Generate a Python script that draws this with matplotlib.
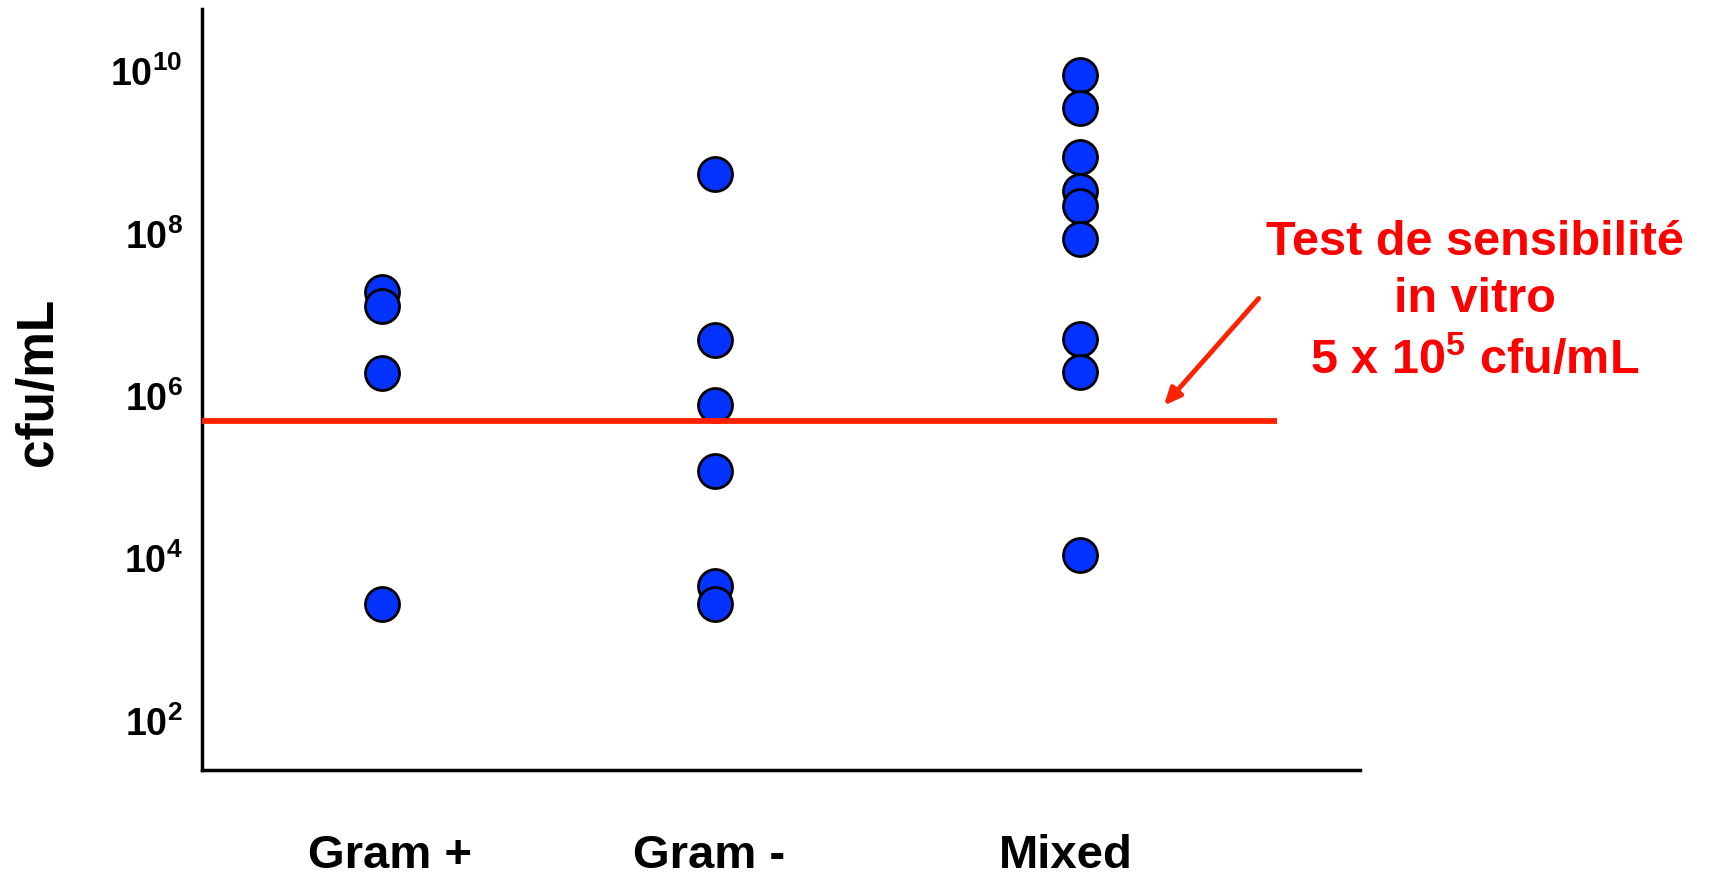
import numpy as np
import matplotlib.pyplot as plt

plt.rcParams['font.family'] = ['Liberation Sans', 'DejaVu Sans']
plt.rcParams['font.weight'] = 'bold'
plt.rcParams['mathtext.fontset'] = 'custom'
plt.rcParams['mathtext.rm'] = 'Liberation Sans:bold'
plt.rcParams['mathtext.it'] = 'Liberation Sans:bold'
plt.rcParams['mathtext.bf'] = 'Liberation Sans:bold'

groups = ['Gram +', 'Gram -', 'Mixed']
gram_pos = [1.95e7, 1.3e7, 1.96e6, 2.8e3]
gram_neg = [5.5e8, 5.0e6, 7.8e5, 1.2e5, 4.6e3, 2.8e3]
mixed = [9.1e9, 3.6e9, 8.9e8, 3.4e8, 2.2e8, 8.7e7, 5.1e6, 2.0e6, 1.1e4]
threshold = 5e5
decades = [2, 4, 6, 8, 10]
note_lines = ['Test de sensibilité', 'in vitro', '5 x 10$^{5}$ cfu/mL']

group_x = [0.1555, 0.443, 0.758]
label_x = [0.162, 0.438, 0.746]

fig = plt.figure(figsize=(17.11, 8.77), dpi=100)
ax = fig.add_axes([0.1181, 0.1220, 0.6768, 0.8677])

for x, vals in zip(group_x, [gram_pos, gram_neg, mixed]):
    ax.scatter([x] * len(vals), vals, s=600, color='#0433ff',
               edgecolors='black', linewidths=2, zorder=3)

ax.hlines(threshold, 0, 0.928, color='#ff2200', lw=4.2, zorder=4)
ax.annotate('', xy=(0.829, threshold * 1.45), xytext=(0.914, 1.7e7),
            arrowprops=dict(arrowstyle='-|>,head_length=1.0,head_width=0.45',
                            color='#ff2200', lw=3.5), zorder=4)

for y, line in zip([0.724, 0.658, 0.589], note_lines):
    fig.text(0.862, y, line, color='red', fontsize=35, fontweight='bold',
             ha='center', va='center')

ax.set_yscale('log')
ax.set_ylim(10 ** 1.397, 10 ** 10.77)
ax.set_xlim(0, 1)
ax.set_yticks([10.0 ** d for d in decades])
ax.set_yticklabels([r'$10^{%d}$' % d for d in decades], fontsize=27)
ax.yaxis.set_minor_locator(plt.NullLocator())
ax.set_xticks(label_x)
ax.set_xticklabels(groups, fontsize=34, fontweight='bold')
ax.tick_params(axis='both', length=0)
ax.tick_params(axis='x', pad=46)
ax.tick_params(axis='y', pad=14)

ax.set_ylabel('cfu/mL', fontsize=37, fontweight='bold')
ax.yaxis.set_label_coords(-0.12, 0.51)

for side in ['top', 'right']:
    ax.spines[side].set_visible(False)
for side in ['left', 'bottom']:
    ax.spines[side].set_linewidth(2.5)

fig.savefig('out.png', dpi=100)
